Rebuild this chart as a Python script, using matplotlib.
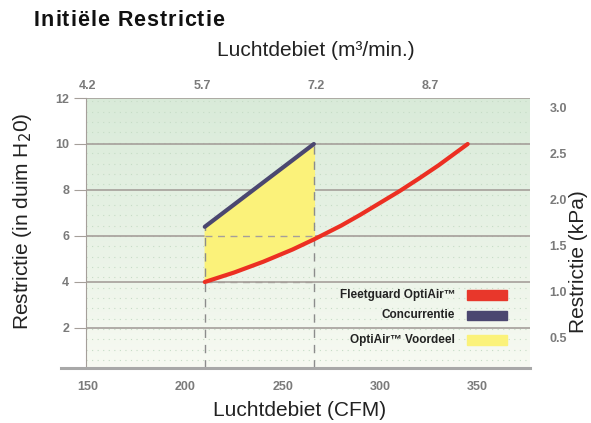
import numpy as np
import matplotlib.pyplot as plt
from matplotlib.patches import Rectangle

plt.rcParams["font.family"] = ["Liberation Sans", "DejaVu Sans"]

# ── data ──────────────────────────────────────────────────
optiair_cfm = [210, 225, 240, 255, 266, 280, 290, 300, 310, 320, 330, 345]
optiair_h2o = [4.0, 4.41, 4.88, 5.41, 5.85, 6.45, 6.93, 7.44, 7.95, 8.5, 9.07, 10.0]
conc_cfm = [210, 266]
conc_h2o = [6.4, 10.0]

left_ticks = [2, 4, 6, 8, 10, 12]
bottom_ticks = [150, 200, 250, 300, 350]
top_ticks = [4.2, 5.7, 7.2, 8.7]
kpa_ticks = [0.5, 1.0, 1.5, 2.0, 2.5, 3.0]

legend_labels = ["Fleetguard OptiAir\u2122", "Concurrentie", "OptiAir\u2122 Voordeel"]
legend_colors = ["#e8372b", "#4b4770", "#fbf27a"]

tick_gray = "#7a7a7a"
grid_gray = "#a59f9a"
W, H = 591, 423

fig = plt.figure(figsize=(5.91, 4.23), dpi=100)
ax = fig.add_axes([86 / W, 1 - 368 / H, 444 / W, 270 / H])
ax.set_xlim(149, 377)
ax.set_ylim(0.26, 12)

# background gradient: green at the top fading toward the bottom
grad = np.linspace(0, 1, 256).reshape(-1, 1)
top_c = np.array([0.85, 0.92, 0.85])
bot_c = np.array([0.97, 0.98, 0.95])
img = bot_c + (top_c - bot_c) * grad
ax.imshow(img[::-1].reshape(256, 1, 3), extent=[149, 377, 0.26, 12],
          aspect="auto", origin="upper", zorder=0)

# dotted texture
for yy in np.arange(0.6, 12, 0.45):
    ax.axhline(yy, color="#c6dcc6", lw=0.8, ls=(0, (1, 4)), zorder=0.5)

for yv in left_ticks:
    ax.axhline(yv, color=grid_gray, lw=1.2, zorder=1)

# advantage area
xs = np.linspace(210, 266, 60)
ax.fill_between(xs, np.interp(xs, optiair_cfm, optiair_h2o),
                np.interp(xs, conc_cfm, conc_h2o), color="#fbf27a", zorder=2)
for yv in [4, 6]:
    ax.plot([210, 266], [yv, yv], color=grid_gray, lw=1.0,
            ls=(0, (5, 4)), zorder=2.5)

ax.plot([210, 210], [0.26, conc_h2o[0]], color="#8c8c8c", lw=1.0,
        ls=(0, (6, 5)), zorder=2.5)
ax.plot([266, 266], [0.26, conc_h2o[1]], color="#8c8c8c", lw=1.0,
        ls=(0, (6, 5)), zorder=2.5)

ax.plot(conc_cfm, conc_h2o, color="#4b4770", lw=3, solid_capstyle="round", zorder=3)
ax.plot(optiair_cfm, optiair_h2o, color="#ec2f22", lw=3,
        solid_capstyle="round", solid_joinstyle="round", zorder=3)

# legend drawn by hand (text, then colour patch)
leg_y = [3.43, 2.56, 1.48]
for lab, col, yv in zip(legend_labels, legend_colors, leg_y):
    ax.text(338.5, yv, lab, ha="right", va="center", fontsize=8.5,
            fontweight="bold", color="#222222", zorder=4)
    ax.add_patch(Rectangle((344.6, yv - 0.2), 20.5, 0.4, color=col, zorder=4))

# spines
for s in ["top", "right", "bottom"]:
    ax.spines[s].set_visible(False)
ax.spines["left"].set_color(grid_gray)
ax.plot([136, 377], [0.26, 0.26], color="#a8a8a8", lw=2.2, clip_on=False, zorder=5)

ax.set_yticks(left_ticks)
ax.set_xticks(bottom_ticks)
ax.tick_params(axis="y", length=9, color=grid_gray, labelcolor=tick_gray,
               labelsize=9, pad=3)
ax.tick_params(axis="x", length=0, labelcolor=tick_gray, labelsize=9, pad=9)
for lbl in ax.get_xticklabels() + ax.get_yticklabels():
    lbl.set_fontweight("bold")

top = ax.secondary_xaxis("top", functions=(lambda c: 4.2 + (c - 150) / 39.1,
                                           lambda m: 150 + (m - 4.2) * 39.1))
top.set_xticks(top_ticks)
top.set_xticklabels([f"{t:.1f}" for t in top_ticks])
top.tick_params(length=0, labelcolor=tick_gray, labelsize=9, pad=4)
for lbl in top.get_xticklabels():
    lbl.set_fontweight("bold")
top.spines["top"].set_visible(False)

right = ax.secondary_yaxis("right", functions=(lambda y: (y + 0.43) / 4,
                                               lambda k: 4 * k - 0.43))
right.set_yticks(kpa_ticks)
right.set_yticklabels([f"{t:.1f}" for t in kpa_ticks])
right.tick_params(length=0, labelcolor=tick_gray, labelsize=9, pad=14)
for lbl in right.get_yticklabels():
    lbl.set_fontweight("bold")
right.spines["right"].set_visible(False)

# axis titles placed where the reference has them
fig.text(300 / W, 1 - 410 / H, "Luchtdebiet (CFM)", fontsize=15,
         ha="center", va="center", color="#222222")
fig.text(316 / W, 1 - 50 / H, "Luchtdebiet (m\u00b3/min.)", fontsize=15,
         ha="center", va="center", color="#222222")
fig.text(23 / W, 1 - 221 / H, "Restrictie (in duim H$_2$0)", fontsize=15,
         rotation=90, ha="center", va="center", color="#222222")
fig.text(578 / W, 1 - 262 / H, "Restrictie (kPa)", fontsize=15,
         rotation=90, ha="center", va="center", color="#222222")

# letter-spaced title
title = "Initiële Restrictie"
fig.canvas.draw()
r = fig.canvas.get_renderer()
x = 34.0
for ch in title:
    t = fig.text(x / W, 1 - 20 / H, ch, fontsize=15.5, fontweight="bold",
                 ha="left", va="center", color="#111111")
    wdt = t.get_window_extent(renderer=r).width if ch != " " else 6
    x += wdt + 1.0

fig.savefig("out.png", dpi=100)
